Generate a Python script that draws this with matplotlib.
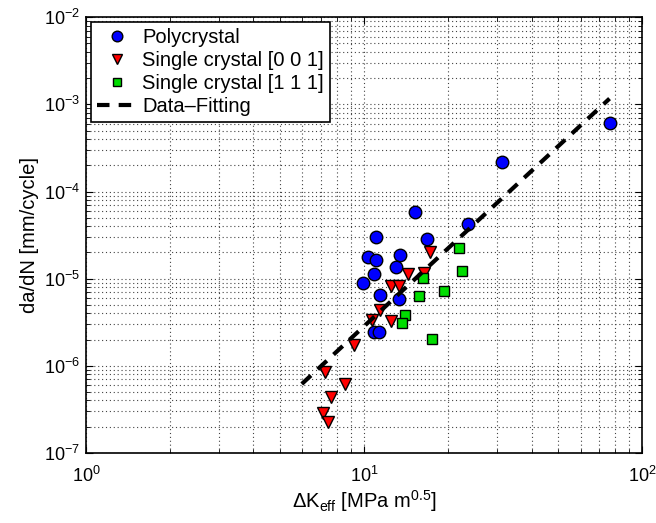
import numpy as np
import matplotlib.pyplot as plt

plt.rcParams['font.family'] = ['Liberation Sans', 'DejaVu Sans']
plt.rcParams['mathtext.fontset'] = 'custom'
plt.rcParams['mathtext.rm'] = 'Liberation Sans'
plt.rcParams['mathtext.it'] = 'Liberation Sans'

# Polycrystal
poly_dK = [15.3, 23.6, 11.0, 16.9, 10.3, 11.0, 13.5, 13.0, 10.9, 9.95, 11.4, 13.4, 10.9, 11.3, 31.3, 76.9]
poly_dadn = [5.75e-5, 4.27e-5, 2.98e-5, 2.87e-5, 1.78e-5, 1.63e-5, 1.88e-5, 1.36e-5, 1.14e-5, 8.9e-6,
             6.5e-6, 5.83e-6, 2.46e-6, 2.46e-6, 2.21e-4, 6.14e-4]

# Single crystal [0 0 1]
sc001_dK = [17.2, 14.4, 16.4, 12.5, 13.4, 11.4, 10.7, 12.5, 9.18, 7.24, 8.57, 7.6, 7.14, 7.44]
sc001_dadn = [2.04e-5, 1.13e-5, 1.15e-5, 8.22e-6, 8.2e-6, 4.39e-6, 3.33e-6, 3.3e-6, 1.72e-6, 8.4e-7,
              6.24e-7, 4.43e-7, 2.85e-7, 2.25e-7]

# Single crystal [1 1 1]
sc111_dK = [22.0, 22.5, 16.3, 19.3, 15.8, 14.0, 13.7, 17.5]
sc111_dadn = [2.24e-5, 1.23e-5, 1.02e-5, 7.2e-6, 6.3e-6, 3.86e-6, 3.07e-6, 2.05e-6]

# Paris law fit
C = 3.12e-9
m = 2.96
fit_dK = np.array([5.97, 76.3])
fit_dadn = C * fit_dK ** m

fig = plt.figure(figsize=(6.56, 5.23), dpi=100)
ax = fig.add_axes([0.131, 0.134, 0.848, 0.833])

ax.loglog(poly_dK, poly_dadn, 'o', color='blue', markeredgecolor='black', markersize=9,
          markeredgewidth=1.0, label='Polycrystal', zorder=3)
ax.loglog(sc001_dK, sc001_dadn, 'v', color='red', markeredgecolor='black', markersize=9,
          markeredgewidth=1.0, label='Single crystal [0 0 1]', zorder=3)
ax.loglog(sc111_dK, sc111_dadn, 's', color='#00dd00', markeredgecolor='black', markersize=7,
          markeredgewidth=1.0, label='Single crystal [1 1 1]', zorder=3)
ax.loglog(fit_dK, fit_dadn, '--', color='black', linewidth=3, dashes=(3, 2.2),
          label='Data\u2013Fitting', zorder=4)

ax.set_xlim(1, 100)
ax.set_ylim(1e-7, 1e-2)
ax.grid(True, which='both', linestyle=(0, (1, 2.5)), color='#444444', linewidth=0.8)
ax.tick_params(which='both', direction='in', top=True, right=True, labelsize=13)
ax.tick_params(which='major', length=5)
ax.tick_params(which='minor', length=3)
ax.tick_params(axis='x', which='both', pad=9)
ax.tick_params(axis='y', which='both', pad=4)
for s in ax.spines.values():
    s.set_linewidth(1.2)

ax.set_xlabel(r'$\Delta$K$_{\mathrm{eff}}$ [MPa m$^{0.5}$]', fontsize=14.5, labelpad=2)
ax.set_ylabel('da/dN [mm/cycle]', fontsize=14.5, labelpad=4)

leg = ax.legend(loc='upper left', fontsize=14.5, fancybox=False, framealpha=1,
                edgecolor='black', borderaxespad=0.25, handlelength=2.0,
                handletextpad=0.25, labelspacing=0.2, borderpad=0.3, markerscale=0.85)
leg.get_frame().set_linewidth(1.2)

plt.savefig('out.png', dpi=100)
